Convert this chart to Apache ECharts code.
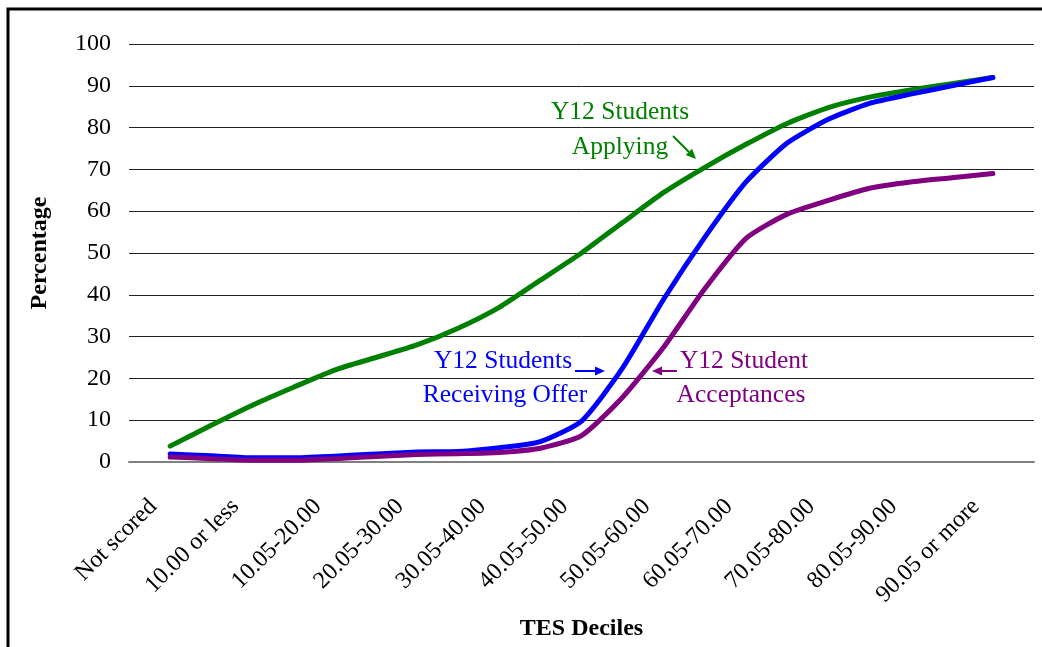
<!DOCTYPE html>
<html>
<head>
<meta charset="utf-8">
<script src="https://cdn.jsdelivr.net/npm/echarts@6/dist/echarts.min.js"></script>
<style>
  html, body { margin: 0; padding: 0; background: #fff; }
  #chart { width: 1042px; height: 647px; }
</style>
</head>
<body>
<div id="chart"></div>
<script>
// categories (deciles)
const deciles = ['Not scored', '10.00 or less', '10.05-20.00', '20.05-30.00', '30.05-40.00',
  '40.05-50.00', '50.05-60.00', '60.05-70.00', '70.05-80.00', '80.05-90.00', '90.05 or more'];

// the lines have a point every half decile
const steps = [0, 0.5, 1, 1.5, 2, 2.5, 3, 3.5, 4, 4.5, 5, 5.5, 6, 6.5, 7, 7.5, 8, 8.5, 9, 9.5, 10];

const applying = [3.8, 8.8, 13.6, 17.9, 22, 25, 28, 32, 37, 43.5, 50, 57.3, 64.5, 70.5, 76, 81, 84.8, 87.3, 89, 90.5, 92];
const offer = [1.9, 1.5, 1, 1, 1.4, 1.9, 2.4, 2.5, 3.4, 4.9, 9.8, 22.5, 39, 53.8, 67, 76.3, 82, 85.8, 88, 90, 92];
const accept = [1.2, 0.8, 0.4, 0.4, 0.8, 1.3, 1.8, 2, 2.3, 3.3, 6.3, 15.5, 27.5, 41.5, 53.5, 59.3, 62.6, 65.5, 67, 68, 69];

const yTicks = [0, 100, 10];

const pairs = (vals) => vals.map((v, i) => [steps[i], v]);

const serif = '"Liberation Serif", "DejaVu Serif", serif';

const chart = echarts.init(document.getElementById('chart'));

// 标注箭头
const arrow = (x1, y1, x2, y2, color) => {
  const a = Math.atan2(y2 - y1, x2 - x1);
  const L = 10, W = 4.5;
  const bx = x2 - L * Math.cos(a), by = y2 - L * Math.sin(a);
  return [
    { type: 'line', shape: { x1: x1, y1: y1, x2: bx, y2: by }, style: { stroke: color, lineWidth: 2 } },
    { type: 'polygon', shape: { points: [[x2, y2], [bx + W * Math.sin(a), by - W * Math.cos(a)], [bx - W * Math.sin(a), by + W * Math.cos(a)]] }, style: { fill: color } }
  ];
};

const label = (x, y, text, color) => ({
  type: 'text', x: x, y: y,
  style: { text: text, fill: color, font: '25.5px ' + serif, textAlign: 'center', textVerticalAlign: 'middle' }
});

const lineSeries = (name, vals, color) => ({
  name: name, type: 'line', xAxisIndex: 1, data: pairs(vals), symbol: 'none',
  smooth: 0.2,
  lineStyle: { color: color, width: 5, cap: 'round', join: 'round' }
});

chart.setOption({
  animation: false,
  grid: { left: 129, right: 8, top: 44, bottom: 185 },
  xAxis: [{
    type: 'category',
    data: deciles,
    boundaryGap: true,
    name: 'TES Deciles',
    nameLocation: 'middle',
    nameGap: 155,
    nameTextStyle: { fontFamily: serif, fontWeight: 'bold', fontSize: 24, color: '#000' },
    axisLine: { show: true, lineStyle: { color: '#808080', width: 2 } },
    axisTick: { show: false },
    axisLabel: { rotate: 45, interval: 0, margin: 24, padding: [0, 24, 0, 0], fontFamily: serif, fontSize: 24, color: '#000' }
  }, {
    type: 'value',
    min: -0.5,
    max: 10.5,
    show: false
  }],
  yAxis: {
    type: 'value',
    min: yTicks[0],
    max: yTicks[1],
    interval: yTicks[2],
    name: 'Percentage',
    nameLocation: 'middle',
    nameGap: 77,
    nameTextStyle: { fontFamily: serif, fontWeight: 'bold', fontSize: 24, color: '#000' },
    axisLine: { show: false },
    axisTick: { show: false },
    axisLabel: { margin: 18, fontFamily: serif, fontSize: 24, color: '#000' },
    splitLine: { lineStyle: { color: '#222', width: 1 } }
  },
  series: [
    lineSeries('Y12 Students Applying', applying, '#008000'),
    lineSeries('Y12 Students Receiving Offer', offer, '#0000ff'),
    lineSeries('Y12 Student Acceptances', accept, '#800080')
  ],
  graphic: [
    // frame
    { type: 'rect', shape: { x: 8, y: 9, width: 1060, height: 700 }, style: { fill: null, stroke: '#000', lineWidth: 3 }, silent: true },
    label(620, 112, 'Y12 Students', '#008000'),
    label(620, 147, 'Applying', '#008000'),
    ...arrow(673, 136, 696, 159, '#008000'),
    label(503, 361, 'Y12 Students', '#0000ff'),
    label(505, 395, 'Receiving Offer', '#0000ff'),
    ...arrow(575, 371, 605, 371, '#0000ff'),
    label(744, 361, 'Y12 Student', '#800080'),
    label(741, 395, 'Acceptances', '#800080'),
    ...arrow(677, 371, 652, 371, '#800080')
  ]
});
</script>
</body>
</html>
